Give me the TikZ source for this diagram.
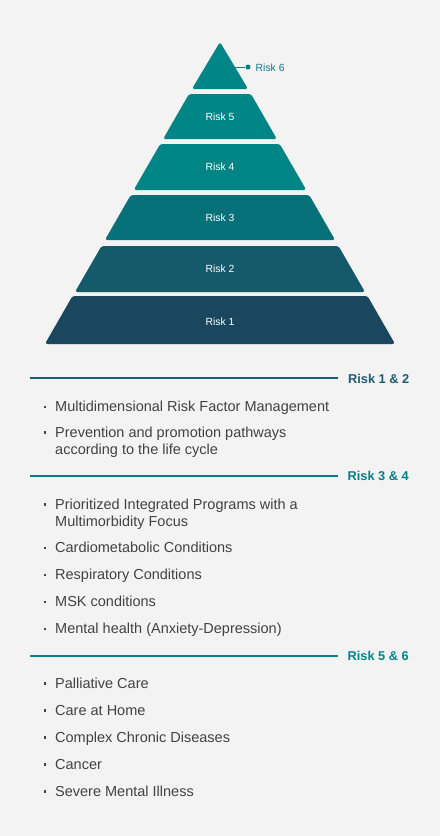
\documentclass[tikz,border=0pt]{standalone}
\usepackage{fontspec}
\setmainfont{Liberation Sans}
\definecolor{bg}{RGB}{243,243,243}
\definecolor{tone}{RGB}{27,71,94}
\definecolor{ttwo}{RGB}{21,90,107}
\definecolor{tthree}{RGB}{6,112,121}
\definecolor{tfour}{RGB}{0,133,135}
\definecolor{hone}{RGB}{30,92,112}
\definecolor{hthree}{RGB}{8,126,132}
\definecolor{hfive}{RGB}{0,134,138}
\definecolor{txtgray}{RGB}{66,66,66}
\begin{document}
\begin{tikzpicture}[x=1pt,y=-1pt,
  tierlbl/.style={text=white,font=\fontsize{10.4}{12}\selectfont,inner sep=0pt},
  tier/.style={rounded corners=2.5pt},
  hdr/.style={font=\bfseries\fontsize{12.8}{15}\selectfont,anchor=base east,inner sep=0pt},
  hline/.style={line width=1.1pt},
  btext/.style={anchor=base west,inner sep=0pt,text=txtgray,font=\fontsize{14.5}{17}\selectfont},
  bdot/.style={fill=txtgray,minimum size=2.2pt,inner sep=0pt,draw=none}]
\useasboundingbox (0,0) rectangle (440,836);
\fill[bg] (0,0) rectangle (440,836);
% pyramid
\fill[tier,tfour] (220,42) -- (248.1,89) -- (191.9,89) -- cycle;
\fill[tier,tfour] (189,94) -- (251,94) -- (276.9,139) -- (163.1,139) -- cycle;
\fill[tier,tfour] (160.2,144) -- (279.8,144) -- (306.3,190) -- (133.7,190) -- cycle;
\fill[tier,tthree] (130.8,195) -- (309.2,195) -- (335.1,240) -- (104.9,240) -- cycle;
\fill[tier,ttwo] (101.5,246) -- (338.5,246) -- (365,292) -- (75,292) -- cycle;
\fill[tier,tone] (72.5,296) -- (367.5,296) -- (395.1,344) -- (44.9,344) -- cycle;
\node[tierlbl] (r5) at (220,116.5) {Risk 5};
\node[tierlbl] (r4) at (220,167) {Risk 4};
\node[tierlbl] (r3) at (220,217.5) {Risk 3};
\node[tierlbl] (r2) at (220,268.5) {Risk 2};
\node[tierlbl] (r1) at (220,322) {Risk 1};
% risk 6 callout
\coordinate (r6a) at (229,67);
\node[circle,fill=hthree,minimum size=5pt,inner sep=0pt] (r6dot) at (248,67) {};
\draw[hthree,line width=1pt] (r6a) -- (r6dot);
\node[text=hthree,font=\fontsize{10.4}{12}\selectfont,inner sep=0pt,anchor=west] (r6) at (255.5,67.5) {Risk 6};
% headers
\coordinate (h1a) at (30,378); \coordinate (h1b) at (338,378);
\draw[hline,hone] (h1a) -- (h1b);
\node[hdr,text=hone] (h1) at (409.5,383.5) {Risk 1 \& 2};
\coordinate (h3a) at (30,476); \coordinate (h3b) at (338,476);
\draw[hline,hthree] (h3a) -- (h3b);
\node[hdr,text=hthree] (h3) at (409,480.5) {Risk 3 \& 4};
\coordinate (h5a) at (30,656); \coordinate (h5b) at (338,656);
\draw[hline,hfive] (h5a) -- (h5b);
\node[hdr,text=hfive] (h5) at (409,660.5) {Risk 5 \& 6};
% bullets
\newcommand\bul[3]{%
  \node[bdot] (#1d) at (45,#2-4.5) {};
  \node[btext] (#1) at (55,#2) {#3};}
\newcommand\cont[3]{\node[btext] (#1) at (55,#2) {#3};}
\bul{a1}{411.7}{Multidimensional Risk Factor Management}
\bul{a2}{437}{Prevention and promotion pathways}
\cont{a2b}{454.2}{according to the life cycle}
\bul{b1}{509}{Prioritized Integrated Programs with a}
\cont{b1b}{526}{Multimorbidity Focus}
\bul{b2}{552.8}{Cardiometabolic Conditions}
\bul{b3}{579.8}{Respiratory Conditions}
\bul{b4}{606.8}{MSK conditions}
\bul{b5}{633.8}{Mental health (Anxiety-Depression)}
\bul{c1}{688}{Palliative Care}
\bul{c2}{715}{Care at Home}
\bul{c3}{742}{Complex Chronic Diseases}
\bul{c4}{769}{Cancer}
\bul{c5}{796}{Severe Mental Illness}
\end{tikzpicture}
\end{document}
